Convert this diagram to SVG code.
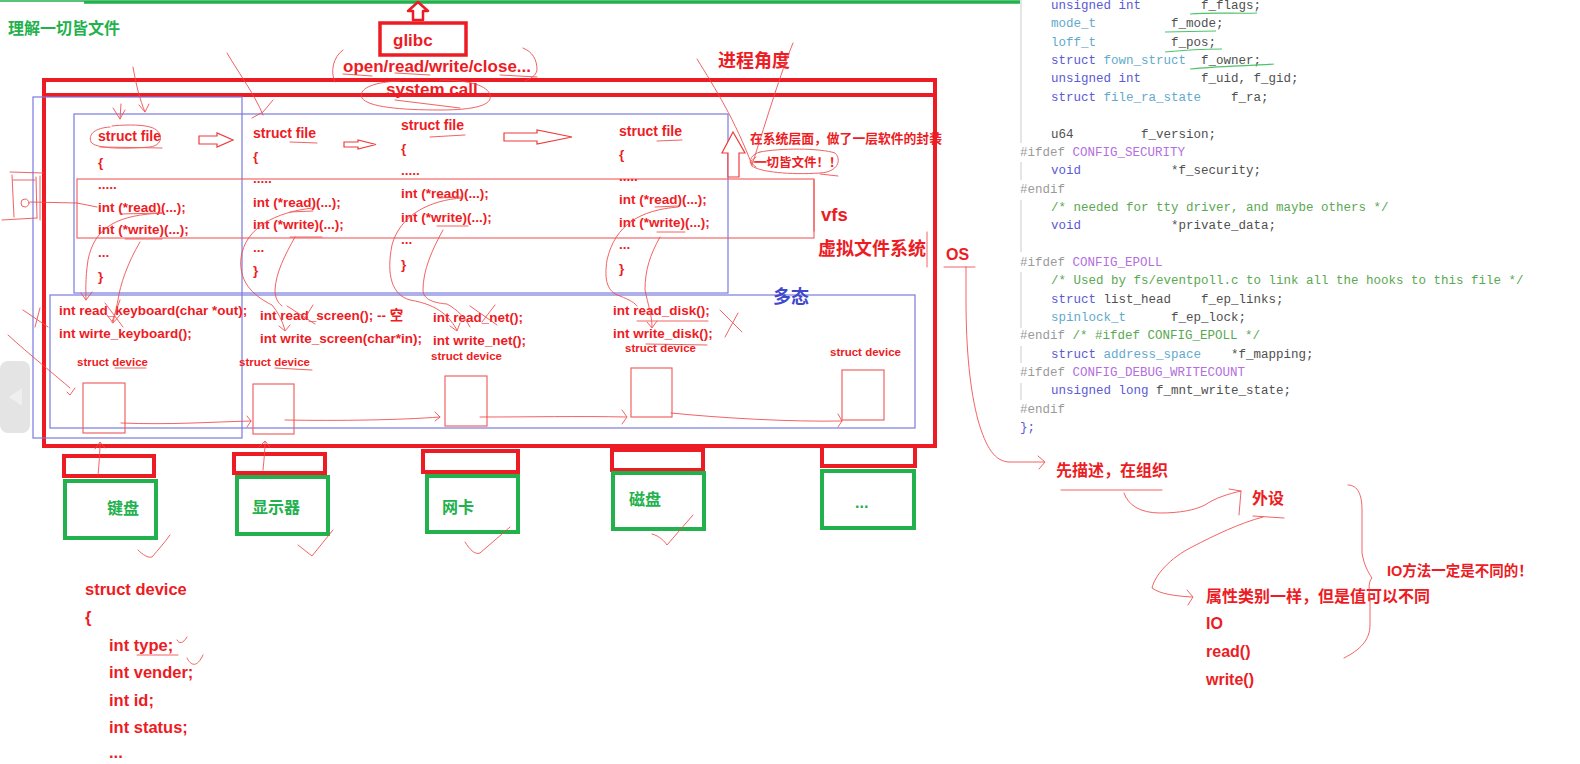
<svg xmlns="http://www.w3.org/2000/svg" width="1580" height="764" viewBox="0 0 1580 764">
<defs>
<style>
.t{font-family:"Liberation Sans","Noto Sans CJK SC",sans-serif;font-weight:bold}
.r{fill:#ed1c24}
.c{font-size:13.5px}
.sd{font-size:11.5px}
.big{font-size:17px}
.g{fill:#22b14c;font-size:16px}
.bl{fill:none;stroke:#7a7ade;stroke-width:1.2}
.rb{fill:none;stroke:#ed1c24;stroke-width:4}
.gb{fill:none;stroke:#22b14c;stroke-width:4}
.dev{fill:none;stroke:#f06464;stroke-width:1.2}
.sk{fill:none;stroke:#f04848;stroke-width:1;stroke-linecap:round;stroke-linejoin:round;opacity:.85}
.ha{fill:#fff;stroke:#ee3a3a;stroke-width:1.2}
.m{font-family:"Liberation Mono",monospace;font-size:12.5px;fill:#505050}
.kw{fill:#5a5ad6}.ty{fill:#62aacc}.pp{fill:#9a9a9a}.mc{fill:#b36ee0}.cm{fill:#5aa852}
.ig{stroke:#dcdcdc;stroke-width:1.5}
.gu{fill:none;stroke:#4cc46a;stroke-width:1.2}
</style>
</defs>
<rect width="1580" height="764" fill="#fff"/>

<!-- top green line -->
<path d="M0,1 L84,1" stroke="#22b14c" stroke-width="1.5"/>
<path d="M84,2 L1020,2" stroke="#22b14c" stroke-width="3.5"/>

<!-- left grey pill -->
<g id="side-pill">
<rect x="0" y="361" width="30" height="72" rx="8" fill="#e4e4e4"/>
<polygon points="9,397 22,388 22,406" fill="#efefef"/>
</g>

<g id="title"><text class="t" x="8" y="34" fill="#22b14c" font-size="16">理解一切皆文件</text></g>

<!-- glibc -->
<g id="glibc">
<rect x="380" y="23" width="86" height="32" class="rb" style="stroke-width:3.5"/>
<text class="t r big" x="393" y="46">glibc</text>
</g>
<g id="syscalls"><text class="t r big" x="343" y="72">open/read/write/close...</text></g>

<!-- OS box -->
<g id="os">
<rect x="44" y="80" width="891" height="366" class="rb"/>
<line x1="44" y1="95" x2="935" y2="95" stroke="#ed1c24" stroke-width="4"/>
<text class="t r" x="946" y="260" font-size="16">OS</text>
</g>
<g id="systemcall"><text class="t r big" x="386" y="95">system call</text></g>

<!-- blue frames -->
<g id="frames">
<rect x="33" y="97" width="209" height="341" class="bl"/>
<rect x="74" y="114" width="654" height="179" class="bl"/>
<rect x="50" y="295" width="865" height="133" class="bl"/>
<rect x="77" y="179" width="737" height="59" fill="none" stroke="#f05a5a" stroke-width="1.1"/>
</g>

<!-- struct file columns -->
<g id="file1" class="t r c">
<text x="98" y="141" font-size="14">struct file</text>
<text x="98" y="167">{</text>
<text x="98" y="189">.....</text>
<text x="98" y="212">int (*read)(...);</text>
<text x="98" y="234">int (*write)(...);</text>
<text x="98" y="257">...</text>
<text x="98" y="281">}</text>
</g>
<g id="file2" class="t r c">
<text x="253" y="138" font-size="14">struct file</text>
<text x="253" y="161">{</text>
<text x="253" y="183">.....</text>
<text x="253" y="207">int (*read)(...);</text>
<text x="253" y="229">int (*write)(...);</text>
<text x="253" y="252">...</text>
<text x="253" y="275">}</text>
</g>
<g id="file3" class="t r c">
<text x="401" y="130" font-size="14">struct file</text>
<text x="401" y="153">{</text>
<text x="401" y="175">.....</text>
<text x="401" y="198">int (*read)(...);</text>
<text x="401" y="222">int (*write)(...);</text>
<text x="401" y="244">...</text>
<text x="401" y="269">}</text>
</g>
<g id="file4" class="t r c">
<text x="619" y="136" font-size="14">struct file</text>
<text x="619" y="159">{</text>
<text x="619" y="181">.....</text>
<text x="619" y="204">int (*read)(...);</text>
<text x="619" y="227">int (*write)(...);</text>
<text x="619" y="249">...</text>
<text x="619" y="273">}</text>
</g>

<!-- labels -->
<g id="proc-view"><text class="t r" x="718" y="67" font-size="18">进程角度</text></g>
<g id="wrap-note" class="t r">
<text x="750" y="143" font-size="12.8">在系统层面，做了一层软件的封装</text>
<text x="754" y="167" font-size="12.5">一切皆文件！！</text>
</g>
<g id="vfs" class="t r">
<text x="821" y="221" font-size="18.5">vfs</text>
<text x="818" y="255" font-size="18">虚拟文件系统</text>
</g>
<g id="poly"><text class="t" x="773" y="303" font-size="18" fill="#3f48cc">多态</text></g>

<!-- device functions -->
<g id="dev1" class="t r">
<text class="c" x="59" y="315">int read_keyboard(char *out);</text>
<text class="c" x="59" y="338">int wirte_keyboard();</text>
<text class="sd" x="77" y="366">struct device</text>
<rect x="83" y="383" width="42" height="50" class="dev"/>
</g>
<g id="dev2" class="t r">
<text class="c" x="260" y="320">int read_screen(); -- 空</text>
<text class="c" x="260" y="343">int write_screen(char*in);</text>
<text class="sd" x="239" y="366">struct device</text>
<rect x="253" y="384" width="41" height="50" class="dev"/>
</g>
<g id="dev3" class="t r">
<text class="c" x="433" y="322">int read_net();</text>
<text class="c" x="433" y="345">int write_net();</text>
<text class="sd" x="431" y="360">struct device</text>
<rect x="445" y="376" width="42" height="50" class="dev"/>
</g>
<g id="dev4" class="t r">
<text class="c" x="613" y="315">int read_disk();</text>
<text class="c" x="613" y="338">int write_disk();</text>
<text class="sd" x="625" y="352">struct device</text>
<rect x="631" y="368" width="41" height="49" class="dev"/>
</g>
<g id="dev5" class="t r">
<text class="sd" x="830" y="356">struct device</text>
<rect x="842" y="370" width="42" height="50" class="dev"/>
</g>

<!-- peripherals -->
<g id="keyboard"><rect x="64" y="456" width="90" height="20" class="rb"/><rect x="65" y="481" width="91" height="57" class="gb"/><text class="t g" x="107" y="514">键盘</text></g>
<g id="screen"><rect x="234" y="454" width="91" height="19" class="rb"/><rect x="237" y="477" width="91" height="57" class="gb"/><text class="t g" x="252" y="513">显示器</text></g>
<g id="nic"><rect x="423" y="451" width="95" height="21" class="rb"/><rect x="427" y="476" width="91" height="56" class="gb"/><text class="t g" x="442" y="513">网卡</text></g>
<g id="disk"><rect x="612" y="450" width="91" height="20" class="rb"/><rect x="613" y="473" width="91" height="56" class="gb"/><text class="t g" x="629" y="505">磁盘</text></g>
<g id="more"><rect x="822" y="446" width="93" height="20" class="rb"/><rect x="822" y="471" width="92" height="57" class="gb"/><text class="t g" x="855" y="508">...</text></g>

<!-- struct device definition -->
<g id="struct-device" class="t r" font-size="16.5">
<text x="85" y="595">struct device</text>
<text x="85" y="623">{</text>
<text x="109" y="651">int type;</text>
<text x="109" y="678">int vender;</text>
<text x="109" y="706">int id;</text>
<text x="109" y="733">int status;</text>
<text x="109" y="758">...</text>
</g>

<!-- right notes -->
<g id="notes" class="t r" font-size="16">
<text x="1056" y="476">先描述，在组织</text>
<text x="1252" y="504">外设</text>
<text x="1387" y="576" font-size="14.5">IO方法一定是不同的！</text>
<text x="1206" y="602">属性类别一样，但是值可以不同</text>
<text x="1206" y="629">IO</text>
<text x="1206" y="657">read()</text>
<text x="1206" y="685">write()</text>
</g>

<!-- code panel -->
<g id="code">
<g class="ig">
<line x1="1021" y1="0" x2="1021" y2="143"/>
<line x1="1021" y1="162" x2="1021" y2="180"/>
<line x1="1021" y1="200" x2="1021" y2="252"/>
<line x1="1021" y1="272" x2="1021" y2="328"/>
<line x1="1021" y1="346" x2="1021" y2="363"/>
<line x1="1021" y1="383" x2="1021" y2="400"/>
</g>
<text class="m"><tspan class="kw" x="1051" y="9">unsigned int</tspan><tspan x="1201" y="9">f_flags;</tspan></text>
<text class="m"><tspan class="ty" x="1051" y="27.4">mode_t</tspan><tspan x="1171" y="27.4">f_mode;</tspan></text>
<text class="m"><tspan class="ty" x="1051" y="45.7">loff_t</tspan><tspan x="1171" y="45.7">f_pos;</tspan></text>
<text class="m"><tspan class="kw" x="1051" y="64">struct</tspan><tspan class="ty" x="1103.5" y="64">fown_struct</tspan><tspan x="1201" y="64">f_owner;</tspan></text>
<text class="m"><tspan class="kw" x="1051" y="82.4">unsigned int</tspan><tspan x="1201" y="82.4">f_uid, f_gid;</tspan></text>
<text class="m"><tspan class="kw" x="1051" y="100.8">struct</tspan><tspan class="ty" x="1103.5" y="100.8">file_ra_state</tspan><tspan x="1231" y="100.8">f_ra;</tspan></text>
<text class="m"><tspan x="1051" y="137.5">u64</tspan><tspan x="1141" y="137.5">f_version;</tspan></text>
<text class="m"><tspan class="pp" x="1020" y="155.8">#ifdef</tspan><tspan class="mc" x="1072.5" y="155.8">CONFIG_SECURITY</tspan></text>
<text class="m"><tspan class="kw" x="1051" y="174.2">void</tspan><tspan x="1171" y="174.2">*f_security;</tspan></text>
<text class="m pp" x="1020" y="192.5">#endif</text>
<text class="m cm" x="1051" y="210.9">/* needed for tty driver, and maybe others */</text>
<text class="m"><tspan class="kw" x="1051" y="229.2">void</tspan><tspan x="1171" y="229.2">*private_data;</tspan></text>
<text class="m"><tspan class="pp" x="1020" y="265.9">#ifdef</tspan><tspan class="mc" x="1072.5" y="265.9">CONFIG_EPOLL</tspan></text>
<text class="m cm" x="1051" y="284.3">/* Used by fs/eventpoll.c to link all the hooks to this file */</text>
<text class="m"><tspan class="kw" x="1051" y="302.6">struct</tspan><tspan x="1103.5" y="302.6">list_head</tspan><tspan x="1201" y="302.6">f_ep_links;</tspan></text>
<text class="m"><tspan class="ty" x="1051" y="321">spinlock_t</tspan><tspan x="1171" y="321">f_ep_lock;</tspan></text>
<text class="m"><tspan class="pp" x="1020" y="339.3">#endif</tspan><tspan class="cm" x="1072.5" y="339.3">/* #ifdef CONFIG_EPOLL */</tspan></text>
<text class="m"><tspan class="kw" x="1051" y="357.7">struct</tspan><tspan class="ty" x="1103.5" y="357.7">address_space</tspan><tspan x="1231" y="357.7">*f_mapping;</tspan></text>
<text class="m"><tspan class="pp" x="1020" y="376">#ifdef</tspan><tspan class="mc" x="1072.5" y="376">CONFIG_DEBUG_WRITECOUNT</tspan></text>
<text class="m"><tspan class="kw" x="1051" y="394.4">unsigned long</tspan><tspan x="1156" y="394.4">f_mnt_write_state;</tspan></text>
<text class="m pp" x="1020" y="412.7">#endif</text>
<text class="m kw" x="1020" y="431">};</text>
<path class="gu" d="M1190,14 C1215,12 1240,14 1257,13 M1165,32 L1216,31 M1165,52 C1185,50 1205,49 1222,49 M1190,69 C1220,66 1250,66 1274,64"/>
</g>

<!-- connectors -->
<g id="connectors">
<!-- hollow arrows -->
<polygon class="ha" points="199,136 217,136 217,133 233,140 217,147 217,144 199,144"/>
<polygon class="ha" points="344,142 358,142 358,140 376,144.5 358,149 358,147 344,147"/>
<polygon class="ha" points="504,133 537,133 537,130 572,137 537,144 537,141 504,141"/>
<polygon class="ha" points="733,132 745,153 739,153 739,177 728,177 728,153 722,153"/>
<polygon points="418,2 428,11 423,11 423,20 413,20 413,11 408,11" fill="#fff" stroke="#ed1c24" stroke-width="2.5" stroke-linejoin="round"/>
<!-- device chain -->
<path class="sk" d="M121,423 C170,425 210,422 251,421 M247,416 L251,421 L247,427"/>
<path class="sk" d="M285,420 C340,421 400,420 440,417 M435,412 L440,417 L435,421"/>
<path class="sk" d="M480,417 C530,417 580,416 626,417 M622,410 L627,417 L622,424"/>
<path class="sk" d="M671,413 C720,418 790,422 842,421 M838,414 L842,421 L838,427"/>
<!-- peripheral up -->
<path class="sk" d="M98,475 C99,465 100,452 100,443 M95,449 L100,442 L105,448"/>
<path class="sk" d="M263,470 C264,460 265,450 265,442 M259,447 L265,441 L270,447"/>
<!-- right side flow -->
<path class="sk" d="M944,267 L975,267 M966,267 L966,300 C966,350 970,390 978,420 C986,448 995,462 1010,462 L1044,462 M1038,456 L1045,462 L1039,469"/>
<path class="sk" d="M1061,490 L1162,490"/>
<path class="sk" d="M1124,493 C1128,505 1140,513 1160,513 C1180,513 1195,510 1205,505 C1215,498 1228,494 1241,491 M1229,489 L1241,491 L1239,515"/>
<path class="sk" d="M1253,516 L1284,518"/>
<path class="sk" d="M1263,517 C1240,523 1215,535 1192,547 C1170,558 1155,575 1152,588 C1160,594 1175,596 1192,597 M1187,590 L1193,597 L1188,605"/>
<path class="sk" d="M1348,485 C1358,485 1362,495 1362,510 L1362,553 C1364,565 1368,572 1372,578 C1368,582 1369,590 1370,600 L1370,625 C1370,640 1360,650 1344,658"/>
</g>

<!-- hand-drawn scribbles -->
<g id="scribbles" class="sk">
<path d="M133,67 C136,85 140,100 145,112 M139,105 L145,112 L149,104"/>
<path d="M113,108 L120,119 L125,110 M121,104 L120,119"/>
<path d="M110,127 C95,128 88,134 91,142 C95,149 125,149 150,147 C165,145 163,130 150,127 C140,124 120,125 112,126 M100,147 L162,148"/>
<path d="M227,53 C240,75 255,95 263,115 M252,118 L263,112 L273,100"/>
<path d="M343,50 C333,57 330,72 335,82"/>
<path d="M523,48 C533,52 537,60 537,70 C536,76 530,79 525,81"/>
<path d="M400,81 C370,82 358,90 362,98 C368,107 400,110 440,110 C475,110 493,105 490,95 C488,86 470,80 440,80 M395,100 L460,108"/>
<path d="M343,74 L372,76 M395,73 L430,75 M500,75 L537,77"/>
<path d="M697,59 C715,88 735,120 752,165"/>
<path d="M793,43 C780,75 768,115 752,165"/>
<path d="M750,162 L768,162 M756,157 L750,162 L756,167"/>
<path d="M760,152 C780,148 820,148 835,153 C842,160 838,172 820,173 C790,175 760,172 752,166 C748,160 752,154 760,152 M820,174 L838,176"/>
<path d="M814,180 L814,231 M927,232 L927,267"/>
<!-- col1 -->
<path d="M120,214 L162,213 M125,239 L162,239"/>
<path d="M162,213 C120,215 95,225 88,260 C85,280 86,292 86,300 M81,293 L86,300 L92,292"/>
<path d="M140,242 C128,262 120,285 118,300 C116,310 114,318 113,323 M107,315 L113,323 L120,315"/>
<path d="M105,303 L123,327 M120,300 L112,322"/>
<!-- col2 -->
<path d="M290,142 L317,143 M290,212 L313,211 M290,237 L322,237"/>
<path d="M313,208 C275,212 245,228 241,258 C238,285 258,298 272,305 C278,312 282,320 285,330 M279,326 L285,331 L290,325"/>
<path d="M295,237 C285,255 276,272 275,290 C275,298 278,303 282,306"/>
<path d="M287,306 L315,324 M313,305 L305,318"/>
<!-- col3 -->
<path d="M430,137 L465,135 M438,198 L462,197 M437,226 L468,226"/>
<path d="M462,198 C430,200 400,215 392,245 C386,275 392,295 410,300 C440,305 450,318 457,330 M450,326 L457,331 L460,323"/>
<path d="M443,230 C432,250 423,270 423,290 C423,300 435,303 447,304 C458,310 465,318 470,327"/>
<path d="M470,306 L497,325 M495,305 L482,322"/>
<!-- col4 -->
<path d="M657,141 L682,140 M655,207 L678,206 M657,232 L685,232"/>
<path d="M678,207 C640,210 615,225 607,260 C604,280 607,292 620,296 C630,300 635,303 637,306"/>
<path d="M660,237 C650,255 645,270 645,290 C648,305 652,315 652,327 M647,322 L652,328 L657,321"/>
<path d="M637,321 L708,321 M646,344 L707,345"/>
<path d="M720,310 L742,332 M738,313 L725,337"/>
<!-- device underlines -->
<path d="M115,368 L146,368 M275,368 L312,370"/>
<!-- left doodles -->
<path d="M10,172 L43,173 M13,180 L35,180 M12,175 L14,217 M36,177 L37,218 M40,176 L40,220 M2,220 L37,218"/>
<circle cx="25" cy="203" r="4"/>
<path d="M30,202 L77,203 L97,207"/>
<path d="M8,335 C30,355 55,375 70,388 M75,388 L70,395 L67,392"/>
<path d="M23,310 L48,327 M40,308 L35,327"/>
<!-- checks -->
<path d="M138,550 C143,555 148,558 152,557 C158,550 165,542 170,535"/>
<path d="M298,545 L312,556 L333,530"/>
<path d="M465,542 C470,550 475,555 480,553 L510,527"/>
<path d="M652,534 C660,536 665,542 667,545 L693,515"/>
<path d="M137,655 L178,655 M177,640 C179,644 183,644 187,637 M187,658 C191,666 197,668 203,655"/>
</g>
</svg>
